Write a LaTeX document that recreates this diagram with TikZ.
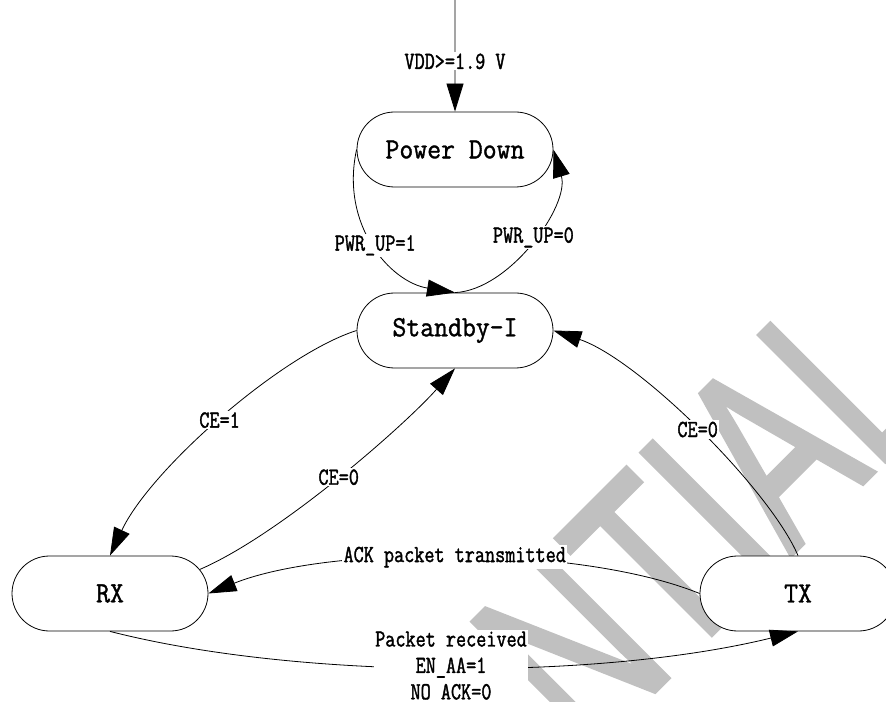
\documentclass[tikz,border=0pt]{standalone}
\usepackage{fontspec}
\usepackage{tikz}
\usetikzlibrary{arrows.meta}
\usetikzlibrary{shapes.misc}
\newfontfamily\statefont[FakeStretch=0.92,FakeBold=1.2]{Latin Modern Mono}
\newfontfamily\edgefont[FakeStretch=0.80,FakeBold=1.5]{Latin Modern Mono}
\newfontfamily\markfont[FakeBold=2]{Liberation Sans}
\definecolor{markgray}{RGB}{192,192,192}

\begin{document}
\begin{tikzpicture}[x=0.75pt, y=-0.75pt, line width=0.6pt,
        state/.style={draw, fill=white, rounded rectangle, minimum width=147pt, minimum height=56.25pt, inner sep=0pt, font=\statefont\fontsize{22}{26}\selectfont},
        cond/.style={fill=white, inner sep=1pt, align=center, font=\edgefont\fontsize{18.4}{19.8}\selectfont},
        go/.style={-{Triangle[length=21pt,width=12.75pt]}}]
        \useasboundingbox (0,0) rectangle (886,702);
        \node [rotate=45, yscale=1.45, anchor=base, inner sep=0pt, text=markgray, font=\markfont\fontsize{133.5}{133.5}\selectfont] (mark) at (483,863) {CONFIDENTIAL};
        \node [state] (pd) at (455,149.5) {Power Down};
        \node [state] (sb) at (455,330.5) {Standby-I};
        \node [state] (rx) at (110,593.5) {RX};
        \node [state] (tx) at (798,593.5) {TX};
        \coordinate (vdd) at (455,0);
        \draw [go] (vdd) -- node [cond, pos=0.55] {VDD>=1.9 V} (pd);
        \draw [go] (pd.west) .. controls (340,225) and (390,282) .. node [cond] {PWR\_UP=1} (sb.north);
        \draw [go] (sb.north) .. controls (510,290) and (570,205) .. node [cond, pos=0.52] {PWR\_UP=0} (pd.east);
        \draw [go] (sb.west) .. controls (280,355) and (150,470) .. node [cond] {CE=1} (rx.north);
        \draw [go] (rx.15) .. controls (280,535) and (405,425) .. node [cond] {CE=0} (sb.south);
        \draw [go] (tx.north) .. controls (770,490) and (640,360) .. node [cond] {CE=0} (sb.east);
        \draw [go] (tx.west) .. controls (580,545) and (330,545) .. node [cond] {ACK packet transmitted} (rx.east);
        \draw [go] (rx.south) .. controls (300,680) and (600,680) .. node [cond] {Packet received\\EN\_AA=1\\NO\_ACK=0} (tx.south);
    \end{tikzpicture}
\end{document}
